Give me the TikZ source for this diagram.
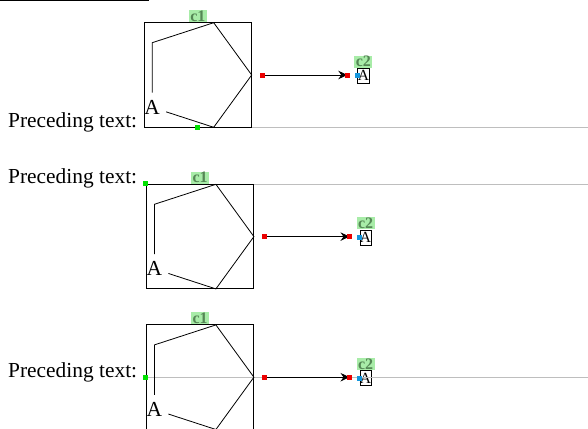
\documentclass[tikz,border=0pt]{standalone}
\usepackage{fontspec}
\setmainfont{Liberation Serif}
\usetikzlibrary{arrows.meta}
\definecolor{lblbg}{RGB}{168,236,168}
\definecolor{lbltxt}{RGB}{85,135,85}
\definecolor{dotgreen}{RGB}{0,225,0}
\definecolor{dotred}{RGB}{235,0,0}
\definecolor{dotblue}{RGB}{20,150,220}
\definecolor{baselinegray}{RGB}{190,190,190}
\tikzset{
  mainfont/.style={font=\fontsize{21.4}{25}\selectfont},
  lbl/.style={fill=lblbg, text=lbltxt, font=\fontsize{16}{16}\selectfont\bfseries,
    inner xsep=1.5pt, inner ysep=0.6pt, text height=10.6pt, text depth=0.3pt, anchor=south},
  sqmark/.style={inner sep=0pt, minimum size=5pt, fill=#1, draw=none},
  bigbox/.style={draw, line width=0.9pt, minimum width=107.7pt, minimum height=104.6pt, inner sep=0pt},
  smallbox/.style={draw, line width=0.8pt, minimum width=11.3pt, minimum height=15pt, inner sep=0pt,
    font=\fontsize{15.5}{15.5}\selectfont},
  pent/.style={line width=0.8pt},
  conn/.style={line width=0.9pt, -{Stealth[length=9pt,width=8.5pt,inset=3pt]}},
  baseln/.style={draw=baselinegray, line width=0.7pt},
}
\newcommand\drawpanel[4]{%
  \begin{scope}[shift={(#2,#3)}]
    \node[bigbox] (c1#1) at (197.85,75) {};
    \coordinate (v0#1) at (251.7,75);
    \coordinate (v72#1) at (213.7,22.7);
    \coordinate (v144#1) at (152.2,42.7);
    \coordinate (v288#1) at (213.7,127.3);
    \node[mainfont, circle, minimum size=29pt, inner sep=0pt] (A#1) at (152.2,107.3) {A};
    \node[smallbox] (c2#1) at (363.35,75.8) {A};
    \coordinate (s1#1) at (262.5,75);
    \coordinate (s2#1) at (347.3,75);
  \end{scope}
  \path (c1#1.#4) coordinate (g#1);
  \draw[baseln] (g#1) -- (g#1 -| rightend);
  \node[mainfont, anchor=base west, inner sep=0pt] (t#1) at (g#1 -| leftend) {Preceding text:};
  \draw[pent] (A#1) -- (v144#1) -- (v72#1) -- (v0#1) -- (v288#1) -- (A#1);
  \node[bigbox] at (c1#1.center) {};
  \node[lbl] (l1#1) at (c1#1.north) {c1};
  \node[lbl, anchor=south] (l2#1) at (c2#1.north) {c2};
  \draw[conn] (s1#1) -- (s2#1);
  \node[sqmark=dotred] (r1#1) at (s1#1) {};
  \node[sqmark=dotred] (r2#1) at (s2#1) {};
  \node[sqmark=dotblue] (b#1) at (c2#1.west) {};
  \node[sqmark=dotgreen] (d#1) at (g#1) {};
}
\begin{document}
\begin{tikzpicture}[x=1pt,y=-1pt]
  \useasboundingbox (0,0) rectangle (588,428);
  \coordinate (rightend) at (588,0);
  \coordinate (leftend) at (8,0);
  \coordinate (rulea) at (0,0.6);
  \coordinate (ruleb) at (149,0.6);
  \draw[line width=1.2pt] (rulea) -- (ruleb);
  \drawpanel{a}{0}{0}{south}
  \drawpanel{b}{2.2}{161.6}{north west}
  \drawpanel{c}{2.2}{302.2}{west}
\end{tikzpicture}
\end{document}
